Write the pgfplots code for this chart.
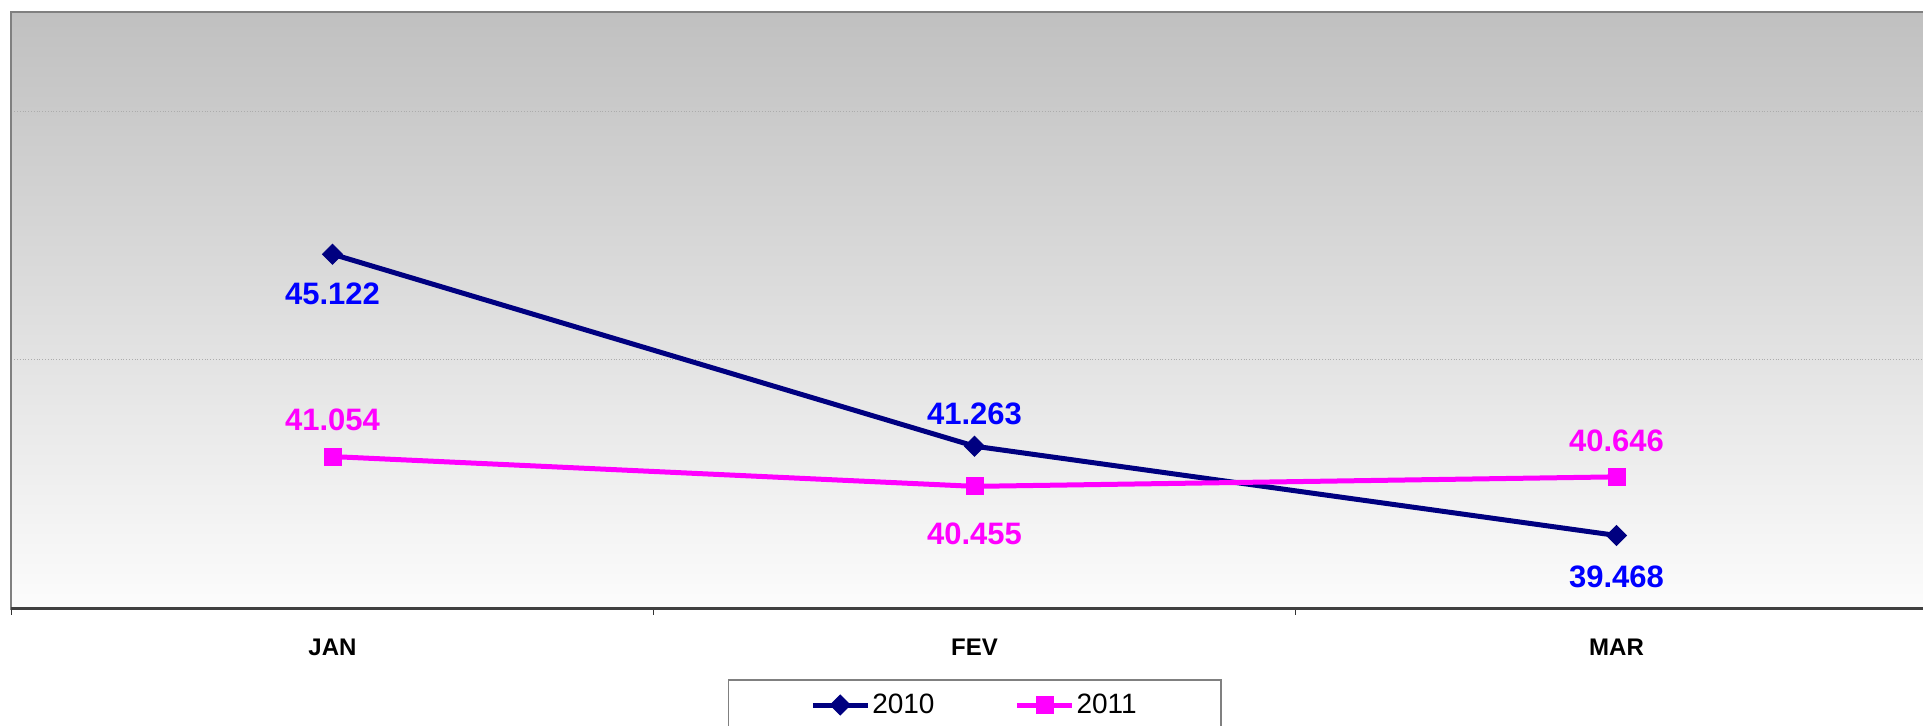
\documentclass[border=0pt]{standalone}
\usepackage{pgfplots}
\pgfplotsset{compat=1.18}
\usepackage{pgfplotstable}
\usepackage{fontspec}
\setmainfont{Liberation Sans}
\definecolor{navy}{RGB}{0,0,128}
\definecolor{lblblue}{RGB}{0,0,255}
\definecolor{mag}{RGB}{255,0,255}
\definecolor{bgtop}{RGB}{192,192,192}
\definecolor{bgbot}{RGB}{252,252,252}
\definecolor{framegray}{RGB}{128,128,128}

\pgfplotstableread{
x y off lab
0 45.122 -20 45.122
1 41.263 16 41.263
2 39.468 -20.5 39.468
}\dataA
\pgfplotstableread{
x y off lab
0 41.054 18.5 41.054
1 40.455 -23.5 40.455
2 40.646 18 40.646
}\dataB

\begin{document}
\begin{tikzpicture}
\begin{axis}[
 scale only axis, width=963pt, height=298.5pt,
 at={(5.75pt,58.25pt)}, anchor=south west,
 xmin=-0.5, xmax=2.5, ymin=38, ymax=50,
 xtick={0,1,2}, xticklabels={JAN,FEV,MAR},
 xtick pos=bottom, ytick pos=left,
 major tick length=0pt,
 minor xtick={-0.5,0.5,1.5,2.5},
 minor tick length=3pt,
 tick align=outside,
 minor tick style={draw=black!80, line width=0.5pt},
 ytick={43,48}, yticklabels={},
 ymajorgrids, grid style={densely dotted, draw=gray!65, line width=0.5pt},
 axis line style={draw=framegray, line width=1pt},
 axis background/.style={top color=bgtop, bottom color=bgbot},
 xticklabel style={font=\bfseries\fontsize{12}{14}\selectfont, anchor=base, yshift=-23.25pt},
 clip=false,
 legend columns=2,
 legend style={at={(0.5,0)}, anchor=north, yshift=-35.25pt, draw=framegray, line width=0.75pt, fill=white,
   font=\fontsize{14}{16}\selectfont, inner xsep=41pt, inner ysep=6pt,
   nodes={inner xsep=1pt, inner ysep=1pt},
   /tikz/every even column/.append style={column sep=39pt}},
 legend image code/.code={\draw[mark repeat=2,mark phase=2] plot coordinates {(0pt,0pt) (13.75pt,0pt) (27.5pt,0pt)};},
]
\addplot[navy, line width=2.5pt, mark=square*, mark size=3.5pt,
  mark options={rotate=45, solid, line width=0.5pt},
  nodes near coords, point meta=explicit symbolic,
  visualization depends on={\thisrow{off} \as \off},
  every node near coord/.append style={anchor=center, yshift=\off pt, text=lblblue,
     font=\bfseries\fontsize{15.5}{18}\selectfont}]
  table[x=x, y=y, meta=lab]{\dataA};
\addlegendentry{2010}
\addplot[mag, line width=2.5pt, mark=square*, mark size=4.25pt,
  mark options={solid, line width=0.5pt},
  nodes near coords, point meta=explicit symbolic,
  visualization depends on={\thisrow{off} \as \off},
  every node near coord/.append style={anchor=center, yshift=\off pt, text=mag,
     font=\bfseries\fontsize{15.5}{18}\selectfont}]
  table[x=x, y=y, meta=lab]{\dataB};
\addlegendentry{2011}
\draw[line width=1.25pt, draw=black!75] (rel axis cs:0,0) -- (rel axis cs:1,0);
\end{axis}
\pgfresetboundingbox
\path[use as bounding box] (0,0) rectangle (961.5pt,362.5pt);
\end{tikzpicture}
\end{document}
